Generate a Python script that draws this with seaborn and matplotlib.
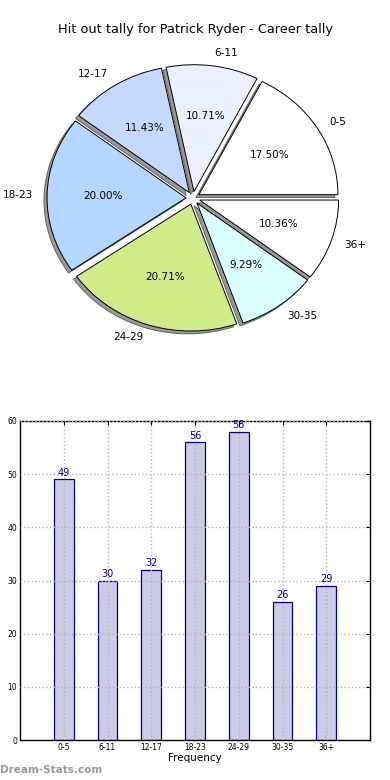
import numpy as np
import matplotlib
matplotlib.use("Agg")
import matplotlib.pyplot as plt
import seaborn as sns

# data
age_groups = ["0-5", "6-11", "12-17", "18-23", "24-29", "30-35", "36+"]
counts = [49, 30, 32, 56, 58, 26, 29]
slice_colors = ["#ffffff", "#eaf0ff", "#c5d9ff", "#b4d6ff", "#d0eb8a", "#dbffff", "#ffffff"]
title = "Hit out tally for Patrick Ryder - Career tally"

sns.set_style("white")
plt.rcParams["font.family"] = ["DejaVu Sans"]
plt.rcParams["text.color"] = "black"
plt.rcParams["xtick.color"] = "black"
plt.rcParams["ytick.color"] = "black"
plt.rcParams["axes.labelcolor"] = "black"

fig = plt.figure(figsize=(3.9, 7.8), dpi=100)

# pie on top
ax1 = fig.add_axes([0, 1 - 360 / 780, 1, 320 / 780])
wedges, texts, autotexts = ax1.pie(
    counts, labels=age_groups, colors=slice_colors, autopct="%.2f%%",
    explode=[0.05] * len(counts),
    shadow={"ox": -0.016, "oy": -0.016, "facecolor": "0.5", "edgecolor": "0.3", "alpha": 0.8},
    wedgeprops={"edgecolor": "black", "linewidth": 0.7},
    textprops={"fontsize": 7.5, "color": "black"},
)
ax1.set_aspect("auto")
ax1.set_xlim(-193 / 139, 197 / 139)
ax1.set_ylim(-(360 - 198) / 127, (198 - 40) / 127)
ax1.axis("off")
fig.text(0.5, 1 - 30 / 780, title, ha="center", va="center", fontsize=9.3)

# bar chart below
ax2 = fig.add_axes([20 / 390, 40 / 780, 350 / 390, 319 / 780])
sns.barplot(x=age_groups, y=counts, ax=ax2, width=0.45, color="#ccccE6",
            saturation=1, edgecolor="navy", linewidth=0.9)
ax2.bar_label(ax2.containers[0], padding=1, color="navy", fontsize=7)
ax2.set_xlim(-1, 7)
ax2.set_ylim(0, 60)
ax2.set_yticks(np.arange(0, 61, 10))
ax2.set_axisbelow(False)
ax2.grid(True, color="0.7", linestyle=":", linewidth=1)
ax2.tick_params(direction="in", length=3, labelsize=5.5, top=True, right=True, pad=2)
ax2.set_xlabel("Frequency", fontsize=7.5, labelpad=1)
ax2.set_ylabel("")
for s in ax2.spines.values():
    s.set_color("black")
    s.set_linewidth(1)

fig.text(0.0, 1 - 770 / 780, "Dream-Stats.com", ha="left", va="center",
         fontsize=7.5, fontweight="bold", color="0.6")

fig.savefig("out.png", dpi=100)
